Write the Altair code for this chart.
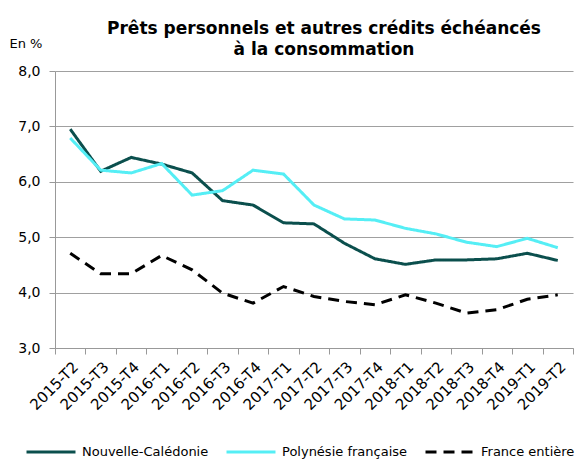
import altair as alt
import pandas as pd

quarters = ["2015-T2", "2015-T3", "2015-T4", "2016-T1", "2016-T2", "2016-T3", "2016-T4",
            "2017-T1", "2017-T2", "2017-T3", "2017-T4", "2018-T1", "2018-T2", "2018-T3",
            "2018-T4", "2019-T1", "2019-T2"]
series_names = ["Nouvelle-Calédonie", "Polynésie française", "France entière"]
nc = [6.95, 6.19, 6.44, 6.32, 6.16, 5.66, 5.58, 5.26, 5.24, 4.89, 4.61, 4.51, 4.59, 4.59, 4.61, 4.71, 4.58]
pf = [6.79, 6.21, 6.16, 6.33, 5.76, 5.84, 6.21, 6.14, 5.58, 5.33, 5.31, 5.16, 5.06, 4.91, 4.83, 4.98, 4.81]
fr = [4.71, 4.34, 4.34, 4.67, 4.41, 3.99, 3.81, 4.11, 3.93, 3.84, 3.78, 3.96, 3.81, 3.63, 3.69, 3.88, 3.96]
colors = ["#0b4f4d", "#55eef5", "#000000"]

rows = []
for name, vals in zip(series_names, [nc, pf, fr]):
    for q, v in zip(quarters, vals):
        rows.append({"trimestre": q, "serie": name, "valeur": v})
df = pd.DataFrame(rows)

FONT = "DejaVu Sans"

chart = alt.Chart(df).mark_line(strokeWidth=3).encode(
    x=alt.X("trimestre:O", sort=quarters,
            scale=alt.Scale(paddingInner=0, paddingOuter=0),
            axis=alt.Axis(title=None, labelAngle=-45, tickBand="extent", labelFontSize=15,
                          labelFont=FONT, labelColor="#000", domainColor="#999", tickColor="#999",
                          tickSize=6, labelPadding=5, grid=False)),
    y=alt.Y("valeur:Q", scale=alt.Scale(domain=[3, 8], nice=False, zero=False),
            axis=alt.Axis(values=[3, 4, 5, 6, 7, 8], labelExpr="replace(format(datum.value, '.1f'), '.', ',')",
                          title="En %", titleAngle=0, titleAlign="left", titleBaseline="middle",
                          titleX=-46, titleY=-28, titleFont=FONT, titleFontSize=13, titleFontWeight="normal",
                          labelFont=FONT, labelFontSize=14, labelColor="#000", labelPadding=9,
                          domainColor="#999", tickColor="#999", tickSize=6,
                          gridColor="#a0a0a0", gridWidth=1.2)),
    color=alt.Color("serie:N", sort=series_names,
                    scale=alt.Scale(domain=series_names, range=colors),
                    legend=alt.Legend(title=None, orient="none", direction="horizontal",
                                      legendX=-30, legendY=355, symbolType="stroke",
                                      symbolSize=2400, symbolStrokeWidth=3, columnPadding=11,
                                      labelFont=FONT, labelFontSize=13, labelColor="#000",
                                      labelOffset=5)),
    strokeDash=alt.StrokeDash("serie:N", sort=series_names,
                              scale=alt.Scale(domain=series_names, range=[[1, 0], [1, 0], [11, 7]]),
                              legend=None),
).properties(
    width=518, height=277,
    title=alt.Title(["Prêts personnels et autres crédits échéancés", "à la consommation"],
                    font=FONT, fontSize=17, fontWeight="bold", color="#000", anchor="middle",
                    offset=12, lineHeight=21, dx=10, dy=34),
    autosize=alt.AutoSizeParams(type="none"),
    padding={"left": 47, "top": 63, "right": 6, "bottom": 112},
).configure_view(stroke=None)

chart.save("out.html", embed_options={"renderer": "svg", "actions": False})
